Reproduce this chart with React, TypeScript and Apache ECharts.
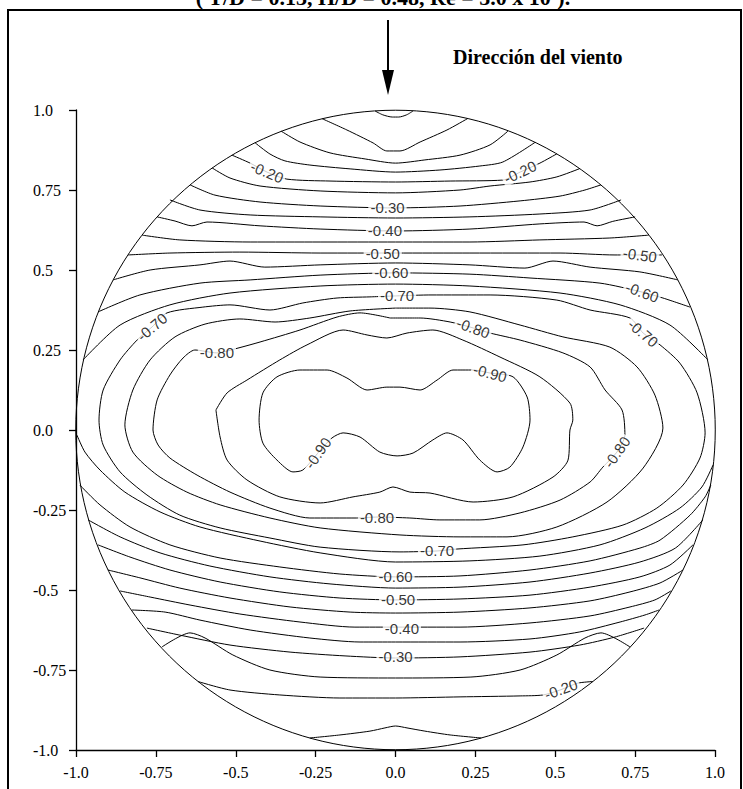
import React, { useEffect, useRef } from "react";
import * as echarts from "echarts";

// ---- axis ticks ----
const tickValues = [-1, -0.75, -0.5, -0.25, 0, 0.25, 0.5, 0.75, 1];
const tickLabels = ["-1.0", "-0.75", "-0.5", "-0.25", "0.0", "0.25", "0.5", "0.75", "1.0"];

// ---- contour lines (x, y in units of D) ----
// upper arcs (windward side)
const top000 = [[-0.064, 0.997], [-0.04, 0.985], [-0.01, 0.978], [0.01, 0.978], [0.035, 0.985], [0.055, 0.997]];
const top005 = [[-0.23, 0.973], [-0.152, 0.9375], [-0.07, 0.897], [-0.027, 0.872], [0.014, 0.872], [0.077, 0.9], [0.161, 0.9375], [0.227, 0.974]];
const top010 = [[-0.358, 0.934], [-0.299, 0.9], [-0.205, 0.866], [-0.095, 0.847], [0, 0.834], [0.092, 0.844], [0.202, 0.859], [0.296, 0.891], [0.352, 0.934]];
const top015 = [[-0.44, 0.898], [-0.393, 0.8625], [-0.346, 0.841], [-0.268, 0.828], [-0.142, 0.816], [0, 0.806], [0.139, 0.8125], [0.264, 0.825], [0.336, 0.8375], [0.437, 0.899]];
const top020 = [[-0.512, 0.859], [-0.455, 0.834], [-0.402, 0.806], [-0.34, 0.784], [-0.205, 0.778], [0, 0.775], [0.171, 0.778], [0.336, 0.781], [0.39, 0.806], [0.452, 0.834], [0.505, 0.863]];
const top025 = [[-0.574, 0.819], [-0.518, 0.7875], [-0.424, 0.7625], [-0.236, 0.747], [0, 0.741], [0.202, 0.75], [0.296, 0.7625], [0.421, 0.775], [0.505, 0.791], [0.577, 0.817]];
const top030 = [[-0.643, 0.766], [-0.565, 0.734], [-0.424, 0.7125], [-0.236, 0.7], [0, 0.694], [0.202, 0.7], [0.39, 0.716], [0.515, 0.731], [0.593, 0.75], [0.643, 0.766]];
const top035 = [[-0.706, 0.719], [-0.612, 0.6875], [-0.455, 0.672], [-0.236, 0.666], [0, 0.6625], [0.233, 0.666], [0.452, 0.675], [0.609, 0.6875], [0.706, 0.719]];
const top040 = [[-0.746, 0.666], [-0.69, 0.653], [-0.637, 0.638], [-0.59, 0.65], [-0.424, 0.638], [-0.236, 0.628], [0, 0.622], [0.233, 0.628], [0.452, 0.644], [0.59, 0.65], [0.631, 0.638], [0.68, 0.652], [0.75, 0.666]];
const top045 = [[-0.793, 0.609], [-0.675, 0.594], [-0.455, 0.5875], [-0.236, 0.5875], [0, 0.5875], [0.233, 0.5875], [0.452, 0.594], [0.671, 0.6], [0.793, 0.609]];
const top050 = [[-0.837, 0.547], [-0.706, 0.553], [-0.487, 0.556], [-0.236, 0.553], [0, 0.553], [0.233, 0.553], [0.515, 0.553], [0.687, 0.547], [0.765, 0.547], [0.834, 0.547]];
const top055 = [[-0.884, 0.469], [-0.768, 0.5], [-0.612, 0.516], [-0.518, 0.528], [-0.409, 0.509], [-0.236, 0.516], [0, 0.522], [0.233, 0.516], [0.405, 0.506], [0.493, 0.528], [0.609, 0.509], [0.765, 0.494], [0.884, 0.469]];
const top060 = [[-0.931, 0.369], [-0.8, 0.422], [-0.612, 0.459], [-0.455, 0.469], [-0.236, 0.484], [0, 0.491], [0.233, 0.487], [0.421, 0.475], [0.64, 0.459], [0.772, 0.431], [0.837, 0.4125], [0.922, 0.384]];
const top065 = [[-0.978, 0.219], [-0.862, 0.328], [-0.706, 0.391], [-0.518, 0.428], [-0.236, 0.45], [0, 0.456], [0.233, 0.45], [0.515, 0.428], [0.703, 0.391], [0.859, 0.328], [0.978, 0.219]];

// lower arcs (leeward side)
const bot065 = [[-0.997, -0.016], [-0.972, -0.069], [-0.925, -0.125], [-0.847, -0.194], [-0.737, -0.256], [-0.612, -0.303], [-0.424, -0.347], [-0.236, -0.384], [0, -0.4125], [0.233, -0.409], [0.452, -0.394], [0.64, -0.359], [0.781, -0.306], [0.89, -0.244], [0.959, -0.178], [0.994, -0.109]];
const bot060 = [[-0.988, -0.172], [-0.925, -0.234], [-0.831, -0.303], [-0.706, -0.359], [-0.549, -0.4], [-0.362, -0.428], [-0.174, -0.45], [0, -0.459], [0.202, -0.456], [0.421, -0.4375], [0.609, -0.409], [0.765, -0.369], [0.828, -0.344], [0.922, -0.266], [0.969, -0.209], [0.987, -0.172]];
const bot055 = [[-0.962, -0.281], [-0.862, -0.334], [-0.737, -0.384], [-0.581, -0.425], [-0.393, -0.459], [-0.205, -0.481], [0, -0.494], [0.202, -0.491], [0.421, -0.475], [0.609, -0.447], [0.765, -0.4125], [0.876, -0.369], [0.962, -0.281]];
const bot050 = [[-0.931, -0.359], [-0.831, -0.397], [-0.706, -0.4375], [-0.549, -0.475], [-0.362, -0.506], [-0.174, -0.525], [0, -0.531], [0.202, -0.528], [0.421, -0.516], [0.609, -0.491], [0.765, -0.459], [0.859, -0.422], [0.931, -0.359]];
const bot045 = [[-0.9, -0.4375], [-0.8, -0.462], [-0.675, -0.494], [-0.518, -0.525], [-0.33, -0.553], [-0.142, -0.569], [0, -0.572], [0.202, -0.569], [0.421, -0.556], [0.609, -0.534], [0.734, -0.506], [0.828, -0.478], [0.9, -0.4375]];
const bot040 = [[-0.862, -0.503], [-0.768, -0.522], [-0.643, -0.547], [-0.487, -0.575], [-0.299, -0.6], [-0.127, -0.616], [0, -0.616], [0.202, -0.616], [0.421, -0.603], [0.609, -0.581], [0.734, -0.553], [0.812, -0.531], [0.862, -0.503]];
const bot035 = [[-0.825, -0.5625], [-0.721, -0.569], [-0.612, -0.594], [-0.455, -0.625], [-0.268, -0.65], [-0.111, -0.6625], [0, -0.6625], [0.202, -0.6625], [0.421, -0.653], [0.577, -0.631], [0.703, -0.6], [0.781, -0.578], [0.825, -0.5625]];
const bot030 = [[-0.778, -0.619], [-0.675, -0.641], [-0.518, -0.672], [-0.33, -0.694], [-0.158, -0.706], [0, -0.7125], [0.202, -0.709], [0.421, -0.694], [0.577, -0.672], [0.687, -0.647], [0.778, -0.619]];
const bot025 = [[-0.731, -0.678], [-0.643, -0.634], [-0.596, -0.65], [-0.509, -0.703], [-0.393, -0.75], [-0.236, -0.772], [0, -0.775], [0.236, -0.772], [0.39, -0.75], [0.505, -0.703], [0.593, -0.65], [0.643, -0.634], [0.734, -0.678]];
const bot020 = [[-0.618, -0.786], [-0.518, -0.8125], [-0.362, -0.828], [-0.174, -0.8375], [0, -0.8375], [0.202, -0.834], [0.39, -0.831], [0.462, -0.828], [0.515, -0.8125], [0.571, -0.791], [0.618, -0.786]];
const bot015 = [[-0.268, -0.9625], [-0.174, -0.953], [-0.08, -0.941], [-0.033, -0.931], [0, -0.925], [0.036, -0.931], [0.092, -0.941], [0.171, -0.953], [0.268, -0.9625]];

// closed contours around the suction core
const loop070 = [[0, 0.419], [-0.08, 0.416], [-0.183, 0.4125], [-0.29, 0.397], [-0.393, 0.375], [-0.518, 0.391], [-0.603, 0.384], [-0.715, 0.366], [-0.762, 0.322], [-0.809, 0.281], [-0.862, 0.219], [-0.915, 0.125], [-0.928, 0.031], [-0.915, -0.047], [-0.862, -0.131], [-0.778, -0.203], [-0.675, -0.266], [-0.549, -0.306], [-0.393, -0.3375], [-0.236, -0.366], [0.014, -0.381], [0.13, -0.378], [0.192, -0.372], [0.399, -0.359], [0.555, -0.334], [0.712, -0.297], [0.818, -0.244], [0.9, -0.172], [0.953, -0.0875], [0.969, -0.009], [0.944, 0.116], [0.89, 0.209], [0.828, 0.266], [0.775, 0.303], [0.734, 0.35], [0.609, 0.375], [0.505, 0.406], [0.296, 0.422], [0.108, 0.422]];
const loop075 = [[0, 0.381], [-0.142, 0.372], [-0.268, 0.35], [-0.377, 0.3375], [-0.487, 0.347], [-0.596, 0.331], [-0.69, 0.291], [-0.768, 0.219], [-0.822, 0.125], [-0.847, 0.016], [-0.822, -0.069], [-0.746, -0.141], [-0.653, -0.194], [-0.549, -0.234], [-0.393, -0.275], [-0.236, -0.306], [0.014, -0.328], [0.202, -0.334], [0.349, -0.334], [0.505, -0.303], [0.662, -0.225], [0.775, -0.119], [0.837, 0.006], [0.812, 0.109], [0.756, 0.197], [0.671, 0.259], [0.524, 0.291], [0.39, 0.328], [0.233, 0.369], [0.108, 0.381]];
const loop080 = [[-0.017, 0.35], [-0.111, 0.366], [-0.183, 0.353], [-0.299, 0.3125], [-0.424, 0.275], [-0.493, 0.256], [-0.559, 0.241], [-0.628, 0.25], [-0.665, 0.225], [-0.706, 0.172], [-0.746, 0.094], [-0.759, 0], [-0.743, -0.047], [-0.706, -0.0875], [-0.621, -0.141], [-0.518, -0.194], [-0.393, -0.244], [-0.268, -0.275], [-0.121, -0.275], [-0.058, -0.272], [0.045, -0.275], [0.139, -0.281], [0.264, -0.281], [0.39, -0.259], [0.515, -0.219], [0.609, -0.1625], [0.649, -0.116], [0.693, -0.069], [0.718, -0.016], [0.709, 0.0625], [0.656, 0.125], [0.609, 0.197], [0.524, 0.241], [0.39, 0.281], [0.296, 0.303], [0.243, 0.319], [0.171, 0.3375], [0.077, 0.35]];
const loop085 = [[-0.562, 0.0625], [-0.527, 0.116], [-0.465, 0.156], [-0.362, 0.219], [-0.277, 0.266], [-0.164, 0.3125], [-0.089, 0.297], [-0.027, 0.2875], [0.036, 0.303], [0.117, 0.3125], [0.211, 0.281], [0.327, 0.228], [0.452, 0.166], [0.546, 0.084], [0.555, 0.031], [0.546, 0], [0.54, -0.094], [0.493, -0.147], [0.368, -0.209], [0.243, -0.225], [0.108, -0.197], [0.045, -0.194], [-0.008, -0.178], [-0.049, -0.194], [-0.133, -0.209], [-0.236, -0.228], [-0.362, -0.209], [-0.465, -0.156], [-0.527, -0.094], [-0.549, -0.022]];
const loop090 = [[-0.243, -0.072], [-0.199, -0.025], [-0.164, -0.009], [-0.111, -0.022], [-0.049, -0.069], [0.005, -0.081], [0.055, -0.072], [0.117, -0.031], [0.161, -0.009], [0.211, -0.031], [0.264, -0.094], [0.318, -0.131], [0.358, -0.116], [0.399, -0.053], [0.421, 0.031], [0.412, 0.103], [0.368, 0.166], [0.296, 0.178], [0.243, 0.1875], [0.18, 0.1875], [0.13, 0.156], [0.077, 0.125], [0.014, 0.134], [-0.027, 0.134], [-0.089, 0.125], [-0.152, 0.1625], [-0.214, 0.1875], [-0.299, 0.1875], [-0.371, 0.166], [-0.415, 0.116], [-0.427, 0.031], [-0.415, -0.041], [-0.371, -0.094], [-0.321, -0.131], [-0.29, -0.125]];

const openContours = [top000, top005, top010, top015, top020, top025, top030, top035, top040, top045, top050, top055, top060, top065,
  bot065, bot060, bot055, bot050, bot045, bot040, bot035, bot030, bot025, bot020, bot015];
const closedContours = [loop070, loop075, loop080, loop085, loop090];

// ---- contour labels ----
const labelText = ["-0.20", "-0.20", "-0.30", "-0.40", "-0.50", "-0.50", "-0.60", "-0.60", "-0.70", "-0.70", "-0.70", "-0.80", "-0.80", "-0.90", "-0.90", "-0.80", "-0.80", "-0.70", "-0.60", "-0.50", "-0.40", "-0.30", "-0.20"];
const labelX = [-0.402, 0.39, -0.025, -0.033, -0.04, 0.765, -0.013, 0.772, 0.005, -0.762, 0.775, -0.559, 0.243, 0.296, -0.243, 0.693, -0.058, 0.13, 0, 0.008, 0.02, 0, 0.518];
const labelY = [0.806, 0.806, 0.694, 0.622, 0.553, 0.547, 0.491, 0.431, 0.419, 0.322, 0.303, 0.241, 0.319, 0.178, -0.072, -0.069, -0.272, -0.378, -0.459, -0.531, -0.619, -0.709, -0.81];
const labelAngle = [-23, 25, 0, 0, 0, -8, 0, -20, 0, 40, -40, 0, -20, -15, 55, 55, 0, 0, 0, 0, 0, 0, 20];

export default function App() {
  const ref = useRef<HTMLDivElement>(null);
  useEffect(() => {
    if (!ref.current) return;
    const chart = echarts.init(ref.current, null, { renderer: "svg" });
    const lineSeries = (pts: number[][], closed: boolean) => ({
      type: "line",
      data: closed ? [...pts, pts[0]] : pts,
      symbol: "none",
      smooth: 0.25,
      clip: false,
      silent: true,
      z: 3,
      lineStyle: { color: "#000", width: 1 },
    });
    const fmt = (v: number) => {
      const i = tickValues.findIndex((t) => Math.abs(t - v) < 1e-6);
      return i >= 0 ? tickLabels[i] : "";
    };
    const axisCommon = {
      type: "value",
      min: -1,
      max: 1,
      interval: 0.25,
      splitLine: { show: false },
      axisLine: { show: true, onZero: false, lineStyle: { color: "#000", width: 1.3 } },
      axisTick: { show: true, length: 7, lineStyle: { color: "#000", width: 1.3 } },
    };
    chart.setOption({
      animation: false,
      grid: { left: 76, right: 28, top: 110, bottom: 39 },
      xAxis: {
        ...axisCommon,
        axisLabel: { formatter: fmt, color: "#000", fontFamily: "Liberation Serif", fontSize: 16, margin: 14 },
      },
      yAxis: {
        ...axisCommon,
        axisLabel: { formatter: fmt, color: "#000", fontFamily: "Liberation Serif", fontSize: 16, margin: 43, align: "left" },
      },
      graphic: [
        { type: "rect", shape: { x: 8, y: 10, width: 733, height: 820 }, style: { fill: "none", stroke: "#000", lineWidth: 2 }, z: 100 },
        { type: "text", x: 383, y: 8, style: { text: "( T/D = 0.13, H/D = 0.48, Re = 5.0 x 10\u2075).", font: "bold 22px 'Liberation Serif'", fill: "#000", textAlign: "center", textVerticalAlign: "bottom" }, z: 100 },
        { type: "line", shape: { x1: 388, y1: 20, x2: 388, y2: 80 }, style: { stroke: "#000", lineWidth: 2 }, z: 100 },
        { type: "polygon", shape: { points: [[382, 70], [394, 70], [388, 95]] }, style: { fill: "#000" }, z: 100 },
        { type: "text", x: 453, y: 57, style: { text: "Dirección del viento", font: "bold 20px 'Liberation Serif'", fill: "#000", textVerticalAlign: "middle" }, z: 100 },
      ],
      series: [
        {
          type: "custom",
          coordinateSystem: "cartesian2d",
          data: [[0, 0]],
          silent: true,
          z: 2,
          renderItem: (params: any, api: any) => {
            const c = api.coord([0, 0]);
            const s = api.size([1, 1]);
            return { type: "circle", shape: { cx: c[0], cy: c[1], r: (s[0] + s[1]) / 2 }, style: { fill: "none", stroke: "#000", lineWidth: 1 } };
          },
        },
        ...openContours.map((p) => lineSeries(p, false)),
        ...closedContours.map((p) => lineSeries(p, true)),
        {
          type: "scatter",
          symbolSize: 1,
          itemStyle: { color: "rgba(0,0,0,0)" },
          silent: true,
          z: 10,
          data: labelText.map((t, i) => ({
            value: [labelX[i], labelY[i]],
            label: {
              show: true,
              position: "inside",
              formatter: t,
              rotate: labelAngle[i],
              color: "#000",
              fontFamily: "Liberation Sans",
              fontSize: 15,
              backgroundColor: "#fff",
              padding: [0, 2],
            },
          })),
        },
      ],
    });
    return () => chart.dispose();
  }, []);
  return <div ref={ref} style={{ position: "absolute", left: 0, top: 0, width: 743, height: 789 }} />;
}
